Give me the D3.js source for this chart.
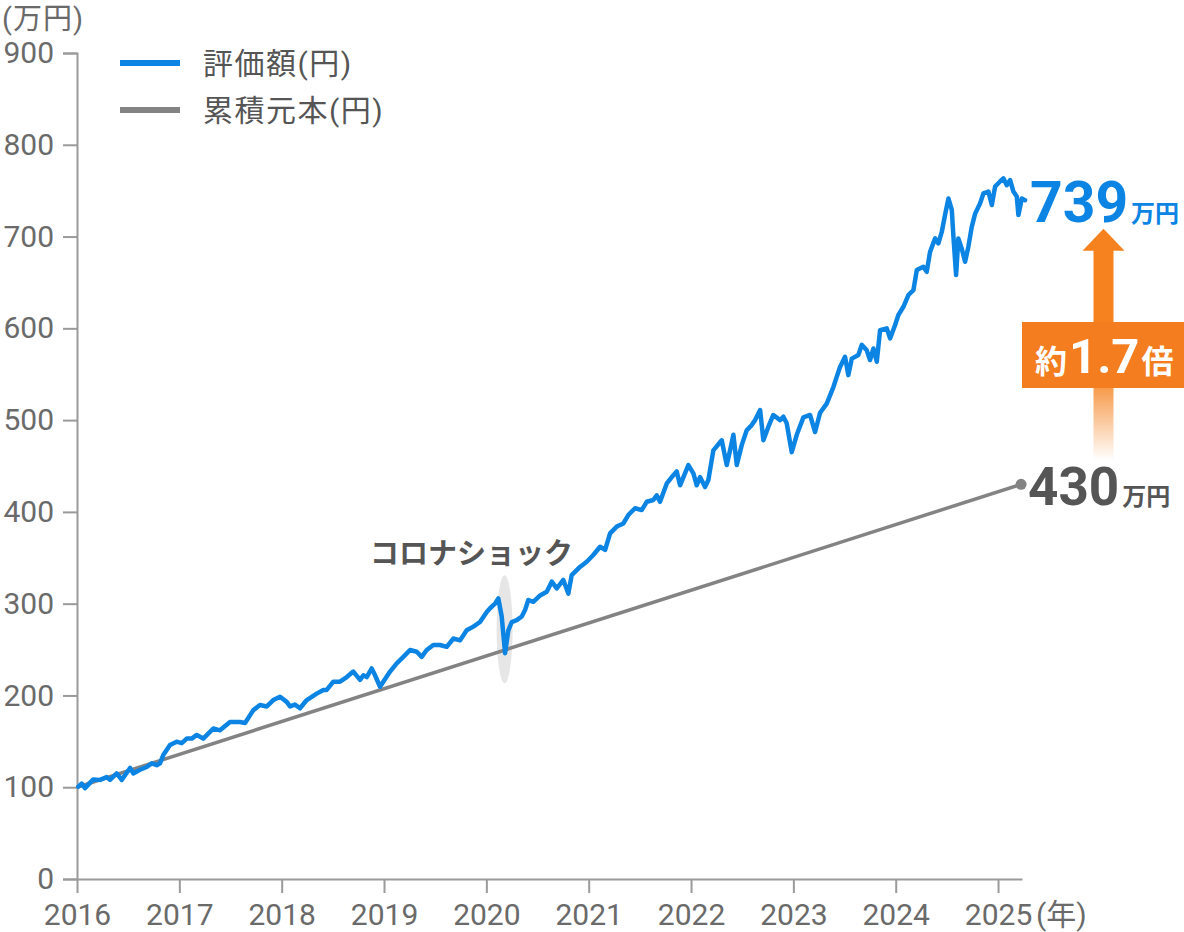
<!DOCTYPE html>
<html>
<head>
<meta charset="utf-8">
<script src="https://cdn.jsdelivr.net/npm/d3@7"></script>
<style>
  body { margin: 0; background: #fff; }
  svg { display: block; font-family: Roboto, "Noto Sans CJK JP", sans-serif; }
  .axis path, .axis line { stroke: #9a9a9a; stroke-width: 2; }
  .axis text { fill: #6a6a6a; font-size: 30px; font-family: Roboto, "Noto Sans CJK JP", sans-serif; }
</style>
</head>
<body>
<div id="chart"></div>
<script>
// data
var yearTicks = [2016, 2017, 2018, 2019, 2020, 2021, 2022, 2023, 2024, 2025];
var yTicks = [0, 100, 200, 300, 400, 500, 600, 700, 800, 900];

// 累積元本: straight line from 100 to 430
var principal = [[2016, 100], [2025.225, 430]];

// 評価額 (decimal year, 万円)
var valuation = [
  [2016.013, 100.6], [2016.046, 104], [2016.078, 99], [2016.159, 108.5], [2016.225, 108],
  [2016.290, 111], [2016.322, 108], [2016.388, 115], [2016.437, 108], [2016.518, 121],
  [2016.550, 115], [2016.616, 119], [2016.681, 122], [2016.730, 126], [2016.779, 124],
  [2016.811, 126], [2016.843, 135], [2016.909, 146], [2016.974, 149.6], [2017.023, 148],
  [2017.072, 153], [2017.121, 153], [2017.170, 157], [2017.234, 153], [2017.332, 164],
  [2017.397, 162], [2017.495, 171], [2017.593, 171], [2017.642, 170], [2017.723, 184],
  [2017.788, 189.6], [2017.854, 188], [2017.918, 195], [2017.984, 198.6], [2018.049, 193],
  [2018.082, 188], [2018.130, 190], [2018.179, 186], [2018.245, 195], [2018.342, 202],
  [2018.407, 206], [2018.440, 206], [2018.505, 215], [2018.570, 215], [2018.636, 220],
  [2018.700, 226], [2018.766, 217], [2018.798, 222], [2018.831, 220], [2018.880, 229.5],
  [2018.912, 222], [2018.961, 209.5], [2018.993, 215], [2019.059, 226], [2019.124, 235],
  [2019.189, 242], [2019.254, 249.5], [2019.320, 247.6], [2019.368, 242], [2019.417, 249.5],
  [2019.482, 255], [2019.547, 255], [2019.613, 253], [2019.677, 262], [2019.743, 260],
  [2019.808, 271], [2019.873, 275], [2019.938, 280], [2020.004, 291], [2020.036, 295],
  [2020.085, 300], [2020.117, 305.8], [2020.150, 286], [2020.183, 246], [2020.215, 271],
  [2020.248, 280], [2020.297, 282], [2020.346, 286], [2020.378, 293], [2020.410, 304],
  [2020.459, 302], [2020.525, 309], [2020.590, 313], [2020.639, 324], [2020.688, 316.6],
  [2020.752, 325.8], [2020.801, 311], [2020.834, 331], [2020.915, 340], [2020.981, 345.7],
  [2021.045, 353], [2021.111, 362], [2021.160, 358.5], [2021.209, 376.6], [2021.274, 384],
  [2021.339, 387.4], [2021.387, 396.6], [2021.453, 404], [2021.518, 402], [2021.567, 411],
  [2021.632, 413], [2021.665, 418], [2021.697, 411], [2021.763, 431], [2021.812, 438],
  [2021.860, 444], [2021.893, 429], [2021.974, 451], [2022.023, 442], [2022.056, 429],
  [2022.088, 438], [2022.137, 427], [2022.169, 434.7], [2022.218, 467], [2022.300, 478],
  [2022.349, 451], [2022.381, 467], [2022.414, 484], [2022.447, 451], [2022.496, 473],
  [2022.544, 489], [2022.593, 494.6], [2022.626, 500], [2022.675, 511], [2022.707, 478],
  [2022.756, 492.8], [2022.804, 505.6], [2022.870, 500], [2022.902, 503.7], [2022.935, 496.5],
  [2022.984, 465], [2023.033, 484], [2023.098, 503], [2023.163, 505.6], [2023.212, 487],
  [2023.261, 508], [2023.326, 518], [2023.391, 536], [2023.456, 558], [2023.505, 569],
  [2023.537, 549], [2023.571, 567], [2023.635, 571], [2023.668, 582], [2023.717, 576],
  [2023.749, 565.5], [2023.782, 578], [2023.815, 563.6], [2023.847, 598], [2023.913, 600],
  [2023.945, 589], [2023.994, 603.6], [2024.026, 614.5], [2024.075, 623.5], [2024.124, 636.3],
  [2024.173, 641.7], [2024.206, 663.5], [2024.270, 667], [2024.303, 661.6], [2024.336, 683.5],
  [2024.385, 698], [2024.417, 692.5], [2024.450, 705], [2024.482, 723.5], [2024.515, 741.5],
  [2024.548, 729], [2024.564, 700], [2024.590, 658], [2024.612, 698], [2024.645, 687],
  [2024.678, 672.5], [2024.710, 689], [2024.743, 710.6], [2024.776, 725], [2024.824, 736],
  [2024.857, 747], [2024.906, 749], [2024.939, 734.4], [2024.971, 754.5], [2025.020, 760],
  [2025.052, 763.4], [2025.085, 756], [2025.118, 761.6], [2025.150, 749], [2025.183, 743.6],
  [2025.199, 723.5], [2025.232, 741.5], [2025.264, 739.6]
];

var finalValue = 739;
var finalPrincipal = 430;
var ratioLabel = "1.7";
var shockDate = 2020.178, shockLevel = 272;

var width = 1184, height = 932;
var margin = { left: 77, right: 162, top: 53, bottom: 53 };

var svg = d3.select("#chart").append("svg")
  .attr("width", width)
  .attr("height", height)
  .attr("viewBox", "0 0 " + width + " " + height);

var x = d3.scaleLinear().domain([2016, 2025.234]).range([margin.left, width - margin.right]);
var y = d3.scaleLinear().domain([0, 900]).range([height - margin.bottom, margin.top]);

var defs = svg.append("defs");
var grad = defs.append("linearGradient")
  .attr("id", "fade").attr("x1", 0).attr("y1", 0).attr("x2", 0).attr("y2", 1);
grad.append("stop").attr("offset", "0%").attr("stop-color", "#f5821f").attr("stop-opacity", 0.8);
grad.append("stop").attr("offset", "100%").attr("stop-color", "#f5821f").attr("stop-opacity", 0);

// axes
var xAxis = d3.axisBottom(x)
  .tickValues(yearTicks)
  .tickFormat(d3.format("d"))
  .tickSize(14)
  .tickSizeOuter(0)
  .tickPadding(11);

var yAxis = d3.axisLeft(y)
  .tickValues(yTicks)
  .tickSize(14)
  .tickPadding(9);

svg.append("g")
  .attr("class", "axis x")
  .attr("transform", "translate(0," + y(0) + ")")
  .call(xAxis);

svg.append("g")
  .attr("class", "axis y")
  .attr("transform", "translate(" + margin.left + ",0)")
  .call(yAxis);

// unit labels
svg.append("text")
  .attr("x", 2).attr("y", 29)
  .attr("fill", "#6a6a6a").style("font-size", "29px")
  .attr("letter-spacing", 1)
  .text("(万円)");

svg.append("text")
  .attr("x", x(2025) + 38).attr("y", y(0) + 25 + 0.71 * 30)
  .attr("fill", "#6a6a6a").style("font-size", "30px")
  .text("(年)");

// corona shock highlight
svg.append("ellipse")
  .attr("cx", x(shockDate)).attr("cy", y(shockLevel))
  .attr("rx", 8).attr("ry", 54)
  .attr("fill", "#e6e6e6");

svg.append("text")
  .attr("x", x(shockDate) - 33).attr("y", 564)
  .attr("text-anchor", "middle")
  .attr("fill", "#555")
  .style("font-size", "29px").style("font-weight", "bold")
  .text("コロナショック");

// lines
var line = d3.line()
  .x(function(d) { return x(d[0]); })
  .y(function(d) { return y(d[1]); });

svg.append("path")
  .datum(principal)
  .attr("d", line)
  .attr("fill", "none")
  .attr("stroke", "#838383")
  .attr("stroke-width", 3.5);

svg.append("path")
  .datum(valuation)
  .attr("d", line)
  .attr("fill", "none")
  .attr("stroke", "#0b84e4")
  .attr("stroke-width", 4.5)
  .attr("stroke-linejoin", "round")
  .attr("stroke-linecap", "round");

var lastP = principal[principal.length - 1];
svg.append("circle")
  .attr("cx", x(lastP[0])).attr("cy", y(lastP[1]))
  .attr("r", 5.5)
  .attr("fill", "#838383");

// legend
var legendItems = [
  { label: "評価額(円)", color: "#0b84e4" },
  { label: "累積元本(円)", color: "#838383" }
];
var legend = svg.selectAll(".legend")
  .data(legendItems)
  .enter().append("g")
  .attr("class", "legend")
  .attr("transform", function(d, i) { return "translate(120," + (63 + i * 47) + ")"; });

legend.append("line")
  .attr("x1", 0).attr("x2", 60)
  .attr("stroke", function(d) { return d.color; })
  .attr("stroke-width", 6);

legend.append("text")
  .attr("x", 83).attr("y", 11)
  .attr("fill", "#555")
  .attr("letter-spacing", 1.5)
  .style("font-size", "30px")
  .text(function(d) { return d.label; });

// end labels
var endValue = svg.append("text")
  .attr("x", 1030).attr("y", y(finalValue) + 21)
  .attr("fill", "#0b84e4")
  .style("font-weight", "bold");
endValue.append("tspan").style("font-size", "57px").text(finalValue);
endValue.append("tspan").attr("dx", 3).style("font-size", "24px").text("万円");

var endPrincipal = svg.append("text")
  .attr("x", 1028).attr("y", y(finalPrincipal) + 21)
  .attr("fill", "#555")
  .style("font-weight", "bold");
endPrincipal.append("tspan").style("font-size", "53px").text(finalPrincipal);
endPrincipal.append("tspan").attr("dx", 3).style("font-size", "24px").text("万円");

// orange arrow between the two
var ax = 1103.5;
var arrowTop = y(finalValue) + 28;
svg.append("rect")
  .attr("x", ax - 10).attr("y", 388)
  .attr("width", 20).attr("height", y(finalPrincipal) - 24 - 388)
  .attr("fill", "url(#fade)");

svg.append("rect")
  .attr("x", ax - 10).attr("y", arrowTop + 21)
  .attr("width", 20).attr("height", 322 - arrowTop - 21)
  .attr("fill", "#f5821f");

svg.append("path")
  .attr("d", "M" + ax + "," + arrowTop + "L" + (ax + 21) + "," + (arrowTop + 22) + "L" + (ax - 21) + "," + (arrowTop + 22) + "Z")
  .attr("fill", "#f5821f");

svg.append("rect")
  .attr("x", 1022).attr("y", 322)
  .attr("width", 162).attr("height", 66)
  .attr("fill", "#f47d20");

var ratio = svg.append("text")
  .attr("x", 1035).attr("y", 373)
  .attr("fill", "#fff")
  .style("font-weight", "bold");
ratio.append("tspan").style("font-size", "32px").text("約");
ratio.append("tspan").attr("dx", 2).style("font-size", "49px").text(ratioLabel);
ratio.append("tspan").attr("dx", 2).style("font-size", "32px").text("倍");
</script>
</body>
</html>
